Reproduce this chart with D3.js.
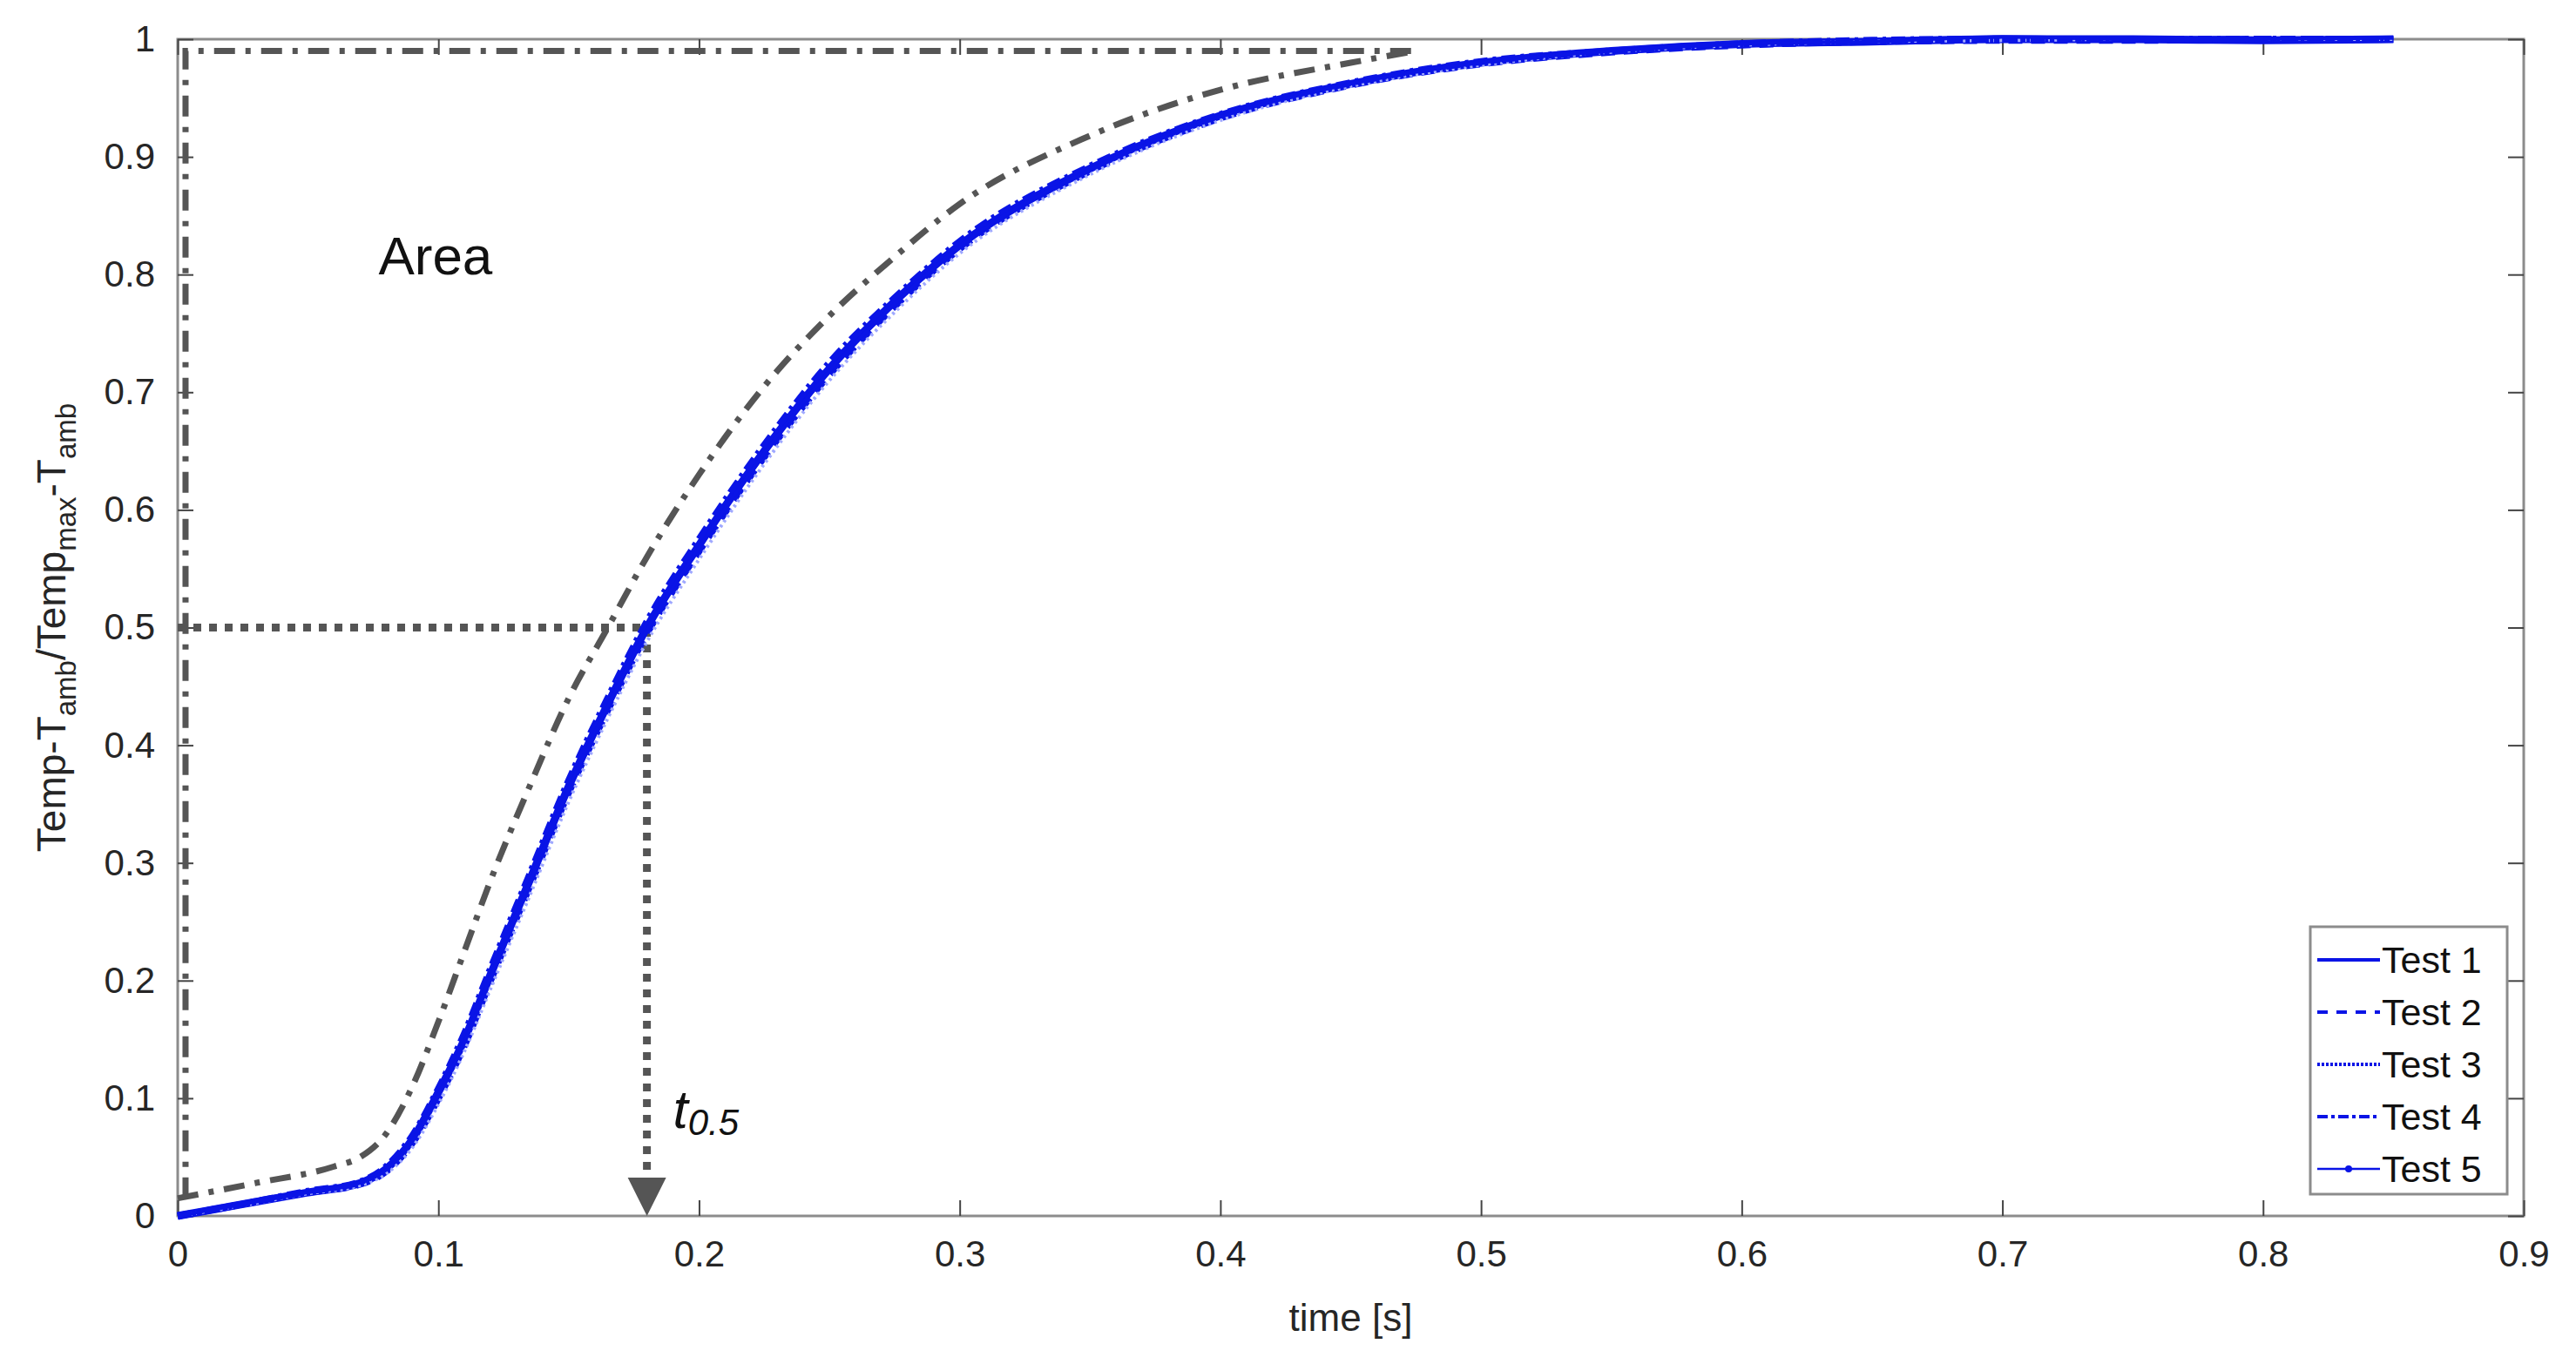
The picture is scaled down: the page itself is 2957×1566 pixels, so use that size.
<!DOCTYPE html>
<html>
<head>
<meta charset="utf-8">
<script src="https://cdn.jsdelivr.net/npm/d3@7"></script>
<style>
  body { margin: 0; background: #fff; }
  text { font-family: "Liberation Sans", Arial, sans-serif; }
</style>
</head>
<body>
<div id="chart"></div>
<script>
// time axis samples [s]
const times = [0, 0.02, 0.05, 0.07, 0.08, 0.09, 0.1, 0.11, 0.12, 0.135, 0.15, 0.165, 0.18, 0.2, 0.225, 0.25, 0.275, 0.3, 0.35, 0.4, 0.45, 0.5, 0.55, 0.6, 0.65, 0.7, 0.75, 0.8, 0.85];
const test1 = [0, 0.008, 0.02, 0.028, 0.04, 0.065, 0.105, 0.15, 0.205, 0.285, 0.365, 0.435, 0.5, 0.57, 0.65, 0.72, 0.777, 0.825, 0.89, 0.935, 0.962, 0.98, 0.99, 0.996, 0.998, 1.0, 1.0, 0.999, 1.0];
const test2 = [0, 0.008, 0.02, 0.027, 0.038, 0.062, 0.1, 0.145, 0.2, 0.28, 0.36, 0.43, 0.495, 0.565, 0.645, 0.715, 0.773, 0.822, 0.888, 0.933, 0.961, 0.979, 0.989, 0.995, 0.998, 0.999, 0.999, 1.0, 1.0];
const test3 = [0, 0.007, 0.019, 0.026, 0.036, 0.058, 0.095, 0.14, 0.193, 0.272, 0.352, 0.423, 0.488, 0.558, 0.639, 0.71, 0.768, 0.818, 0.885, 0.931, 0.96, 0.978, 0.989, 0.995, 0.998, 0.999, 1.0, 1.0, 1.0];
const test4 = [0, 0.008, 0.021, 0.029, 0.042, 0.068, 0.108, 0.155, 0.21, 0.29, 0.37, 0.44, 0.505, 0.575, 0.655, 0.725, 0.78, 0.828, 0.892, 0.936, 0.963, 0.981, 0.99, 0.996, 0.999, 1.0, 1.0, 1.0, 1.0];
const test5 = [0, 0.008, 0.02, 0.028, 0.039, 0.064, 0.103, 0.148, 0.203, 0.283, 0.363, 0.433, 0.498, 0.568, 0.648, 0.718, 0.775, 0.824, 0.889, 0.934, 0.962, 0.98, 0.99, 0.996, 0.998, 1.002, 1.0, 1.0, 1.001];
const testNames = ["Test 1", "Test 2", "Test 3", "Test 4", "Test 5"];

// model curve (gray dash-dot)
const modelT = [0, 0.03, 0.06, 0.07, 0.08, 0.09, 0.1, 0.11, 0.12, 0.135, 0.15, 0.165, 0.18, 0.2, 0.225, 0.25, 0.275, 0.3, 0.35, 0.4, 0.45, 0.475];
const modelY = [0.015, 0.028, 0.042, 0.05, 0.07, 0.11, 0.165, 0.225, 0.285, 0.365, 0.44, 0.5, 0.56, 0.63, 0.705, 0.765, 0.815, 0.86, 0.918, 0.957, 0.98, 0.99];
const areaLevel = 0.99;
const t05 = 0.18;

const xTicks = [0, 0.1, 0.2, 0.3, 0.4, 0.5, 0.6, 0.7, 0.8, 0.9];
const yTicks = [0, 0.1, 0.2, 0.3, 0.4, 0.5, 0.6, 0.7, 0.8, 0.9, 1];

const W = 2957, H = 1566;
const m = { left: 204, right: 60, top: 45, bottom: 170 };

const svg = d3.select("#chart").append("svg").attr("width", W).attr("height", H);
const x = d3.scaleLinear().domain([0, 0.9]).range([m.left, W - m.right]);
const y = d3.scaleLinear().domain([0, 1]).range([H - m.bottom, m.top]);
const axisColor = "#8c8c8c";
const gray = "#555";

// box frame
svg.append("rect")
  .attr("x", x(0)).attr("y", y(1))
  .attr("width", x(0.9) - x(0)).attr("height", y(0) - y(1))
  .attr("fill", "none").attr("stroke", axisColor).attr("stroke-width", 3);

const tickFmt = d => d === 0 ? "0" : d === 1 ? "1" : String(d);
const ax = [
  svg.append("g").attr("transform", `translate(0,${y(0)})`).call(d3.axisBottom(x).tickValues(xTicks).tickSize(-18).tickPadding(28).tickFormat(tickFmt)),
  svg.append("g").attr("transform", `translate(0,${y(1)})`).call(d3.axisTop(x).tickValues(xTicks).tickSize(-18).tickFormat("")),
  svg.append("g").attr("transform", `translate(${x(0)},0)`).call(d3.axisLeft(y).tickValues(yTicks).tickSize(-18).tickPadding(26).tickFormat(tickFmt)),
  svg.append("g").attr("transform", `translate(${x(0.9)},0)`).call(d3.axisRight(y).tickValues(yTicks).tickSize(-18).tickFormat(""))
];
ax.forEach(g => {
  g.select(".domain").remove();
  g.selectAll(".tick line").attr("stroke", "#444").attr("stroke-width", 2);
  g.selectAll("text").attr("font-size", 42).attr("fill", "#262626");
});

// axis labels
svg.append("text").attr("x", x(0.45)).attr("y", H - 38)
  .attr("text-anchor", "middle").attr("font-size", 44).attr("fill", "#262626").text("time [s]");
const yl = svg.append("text")
  .attr("transform", `translate(75,${y(0.5)}) rotate(-90)`)
  .attr("text-anchor", "middle").attr("font-size", 46).attr("fill", "#262626");
yl.append("tspan").text("Temp-T");
yl.append("tspan").attr("font-size", 33).attr("dy", 12).text("amb");
yl.append("tspan").attr("dy", -12).text("/Temp");
yl.append("tspan").attr("font-size", 33).attr("dy", 12).text("max");
yl.append("tspan").attr("dy", -12).text("-T");
yl.append("tspan").attr("font-size", 33).attr("dy", 12).text("amb");

// area rectangle (dash-dot)
const dashDot = "24,12,6,12";
svg.append("path")
  .attr("d", `M${x(0.003)},${y(modelY[0])}V${y(areaLevel)}H${x(modelT[modelT.length - 1])}`)
  .attr("fill", "none").attr("stroke", gray).attr("stroke-width", 7).attr("stroke-dasharray", dashDot);

// t0.5 guides
svg.append("path")
  .attr("d", `M${x(0)},${y(0.5)}H${x(t05)}V${y(0) - 40}`)
  .attr("fill", "none").attr("stroke", gray).attr("stroke-width", 9).attr("stroke-dasharray", "9,9");
svg.append("path")
  .attr("d", `M${x(t05) - 22},${y(0) - 44}L${x(t05) + 22},${y(0) - 44}L${x(t05)},${y(0)}Z`)
  .attr("fill", gray);

// test curves
const line = d3.line().x(d => x(d[0])).y(d => y(d[1])).curve(d3.curveMonotoneX);
const tests = [test1, test2, test3, test4, test5];
const styles = [
  { w: 9, dash: null },
  { w: 8, dash: "16,10" },
  { w: 4, dash: "3,4" },
  { w: 8, dash: "16,6,4,6" },
  { w: 4, dash: null }
];
tests.forEach((vals, i) => {
  svg.append("path")
    .datum(times.map((t, j) => [t, vals[j]]))
    .attr("d", line)
    .attr("fill", "none")
    .attr("stroke", i === 2 ? "#9fa8ff" : "#0a14e6")
    .attr("stroke-width", styles[i].w)
    .attr("stroke-dasharray", styles[i].dash);
});

// model curve
svg.append("path")
  .datum(modelT.map((t, j) => [t, modelY[j]]))
  .attr("d", line)
  .attr("fill", "none").attr("stroke", gray).attr("stroke-width", 7).attr("stroke-dasharray", dashDot);

// annotations
svg.append("text").attr("x", x(0.077)).attr("y", y(0.8)).attr("font-family", "Open Sans, sans-serif")
  .attr("font-size", 62).attr("fill", "#111").text("Area");
const tl = svg.append("text").attr("x", x(0.19)).attr("y", y(0.075))
  .attr("font-family", "Open Sans, sans-serif").attr("font-style", "italic").attr("fill", "#111");
tl.append("tspan").attr("font-size", 62).text("t");
tl.append("tspan").attr("font-size", 42).attr("dy", 8).text("0.5");

// legend
const lg = svg.append("g").attr("transform", "translate(2652,1064)");
lg.append("rect").attr("width", 226).attr("height", 307)
  .attr("fill", "#fff").attr("stroke", axisColor).attr("stroke-width", 3);
testNames.forEach((n, i) => {
  const yy = 38 + i * 60;
  lg.append("line").attr("x1", 8).attr("x2", 80).attr("y1", yy).attr("y2", yy)
    .attr("stroke", "#0a14e6").attr("stroke-width", i === 4 ? 2.5 : 4)
    .attr("stroke-dasharray", i === 1 ? "12,10" : i === 2 ? "3,2" : i === 3 ? "12,4,4,4" : null);
  if (i === 4) lg.append("circle").attr("cx", 44).attr("cy", yy).attr("r", 4).attr("fill", "#0a14e6");
  lg.append("text").attr("x", 82).attr("y", yy + 15).attr("font-size", 43).attr("fill", "#111").text(n);
});
</script>
</body>
</html>
